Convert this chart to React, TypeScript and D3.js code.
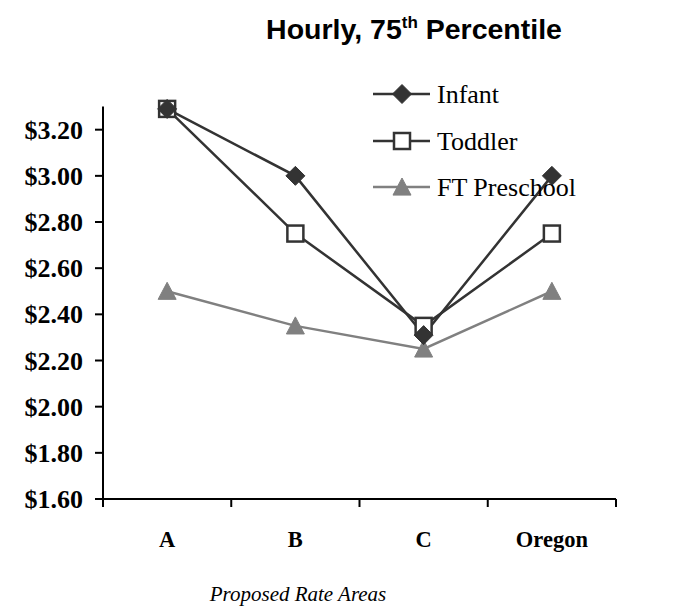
import React from "react";
import * as d3 from "d3";

const categories = ["A", "B", "C", "Oregon"];
const infant = [3.29, 3.0, 2.31, 3.0];
const toddler = [3.29, 2.75, 2.35, 2.75];
const preschool = [2.5, 2.35, 2.25, 2.5];
const yTicks = [1.6, 1.8, 2.0, 2.2, 2.4, 2.6, 2.8, 3.0, 3.2];
const seriesNames = ["Infant", "Toddler", "FT Preschool"];

const W = 692;
const H = 612;
const left = 103;
const right = 616;
const top = 106.6;
const bottom = 499;

const DARK = "#333333";
const GREY = "#808080";
const SERIF = "'Liberation Serif', 'Times New Roman', serif";
const SANS = "'Liberation Sans', Arial, sans-serif";

function Marker({ type, x, y }: { type: string; x: number; y: number }) {
  if (type === "diamond") {
    const s = 9.5;
    return (
      <path
        d={`M${x},${y - s}L${x + s},${y}L${x},${y + s}L${x - s},${y}Z`}
        fill={DARK}
        stroke={DARK}
        strokeWidth={1}
        strokeLinejoin="round"
      />
    );
  }
  if (type === "square") {
    const s = 8;
    return (
      <rect x={x - s} y={y - s} width={2 * s} height={2 * s} fill="#fff" stroke={DARK} strokeWidth={2.5} />
    );
  }
  const s = 9;
  return (
    <path
      d={`M${x},${y - s}L${x + s},${y + s * 0.9}L${x - s},${y + s * 0.9}Z`}
      fill={GREY}
      stroke={GREY}
      strokeWidth={1}
    />
  );
}

export default function App() {
  const x = d3.scaleBand<string>().domain(categories).range([left, right]);
  const y = d3.scaleLinear().domain([1.6, 3.3]).range([bottom, top]);
  const cx = (c: string) => (x(c) as number) + x.bandwidth() / 2;

  const series = [
    { name: seriesNames[0], values: infant, color: DARK, marker: "diamond" },
    { name: seriesNames[1], values: toddler, color: DARK, marker: "square" },
    { name: seriesNames[2], values: preschool, color: GREY, marker: "triangle" },
  ];

  const line = d3
    .line<number>()
    .x((_, i) => cx(categories[i]))
    .y((d) => y(d));

  const legendY = [94, 141, 187];

  return (
    <svg width={W} height={H} style={{ position: "absolute", left: 0, top: 0 }}>
      <rect x={0} y={0} width={W} height={H} fill="#fff" />
      <text
        x={414}
        y={39}
        textAnchor="middle"
        fontFamily={SANS}
        fontWeight="bold"
        fontSize={28.5}
        fill="#000"
      >
        Hourly, 75
        <tspan fontSize={17} dy={-11}>th</tspan>
        <tspan dy={11}> Percentile</tspan>
      </text>

      {/* axes */}
      <line x1={left} x2={left} y1={top} y2={bottom + 8} stroke="#000" strokeWidth={2} />
      <line x1={left - 8} x2={right} y1={bottom} y2={bottom} stroke="#000" strokeWidth={2} />
      {yTicks.map((t) => (
        <g key={t}>
          <line x1={left - 8} x2={left} y1={y(t)} y2={y(t)} stroke="#000" strokeWidth={2} />
          <text
            x={83}
            y={y(t) + 9}
            textAnchor="end"
            fontFamily={SERIF}
            fontWeight="bold"
            fontSize={26}
          >
            {d3.format("$.2f")(t)}
          </text>
        </g>
      ))}
      {categories.map((c) => (
        <g key={c}>
          <line x1={x(c) as number} x2={x(c) as number} y1={bottom} y2={bottom + 8} stroke="#000" strokeWidth={2} />
          <text x={cx(c)} y={547} textAnchor="middle" fontFamily={SERIF} fontWeight="bold" fontSize={22.5}>
            {c}
          </text>
        </g>
      ))}
      <line x1={right} x2={right} y1={bottom} y2={bottom + 8} stroke="#000" strokeWidth={2} />

      <text x={298} y={601} textAnchor="middle" fontFamily={SERIF} fontStyle="italic" fontSize={21}>
        Proposed Rate Areas
      </text>

      {/* series */}
      {series.map((s) => (
        <g key={s.name}>
          <path d={line(s.values) || ""} fill="none" stroke={s.color} strokeWidth={2.5} />
        </g>
      ))}
      {series
        .slice()
        .reverse()
        .map((s) => (
          <g key={s.name + "m"}>
            {s.values.map((v, i) => (
              <Marker key={i} type={s.marker} x={cx(categories[i])} y={y(v)} />
            ))}
          </g>
        ))}

      {/* legend */}
      {series.map((s, i) => (
        <g key={s.name + "l"}>
          <line x1={373} x2={430} y1={legendY[i]} y2={legendY[i]} stroke={s.color} strokeWidth={2.5} />
          <Marker type={s.marker} x={402} y={legendY[i]} />
          <text x={437} y={legendY[i] + 9} fontFamily={SERIF} fontSize={26}>
            {s.name}
          </text>
        </g>
      ))}
    </svg>
  );
}
